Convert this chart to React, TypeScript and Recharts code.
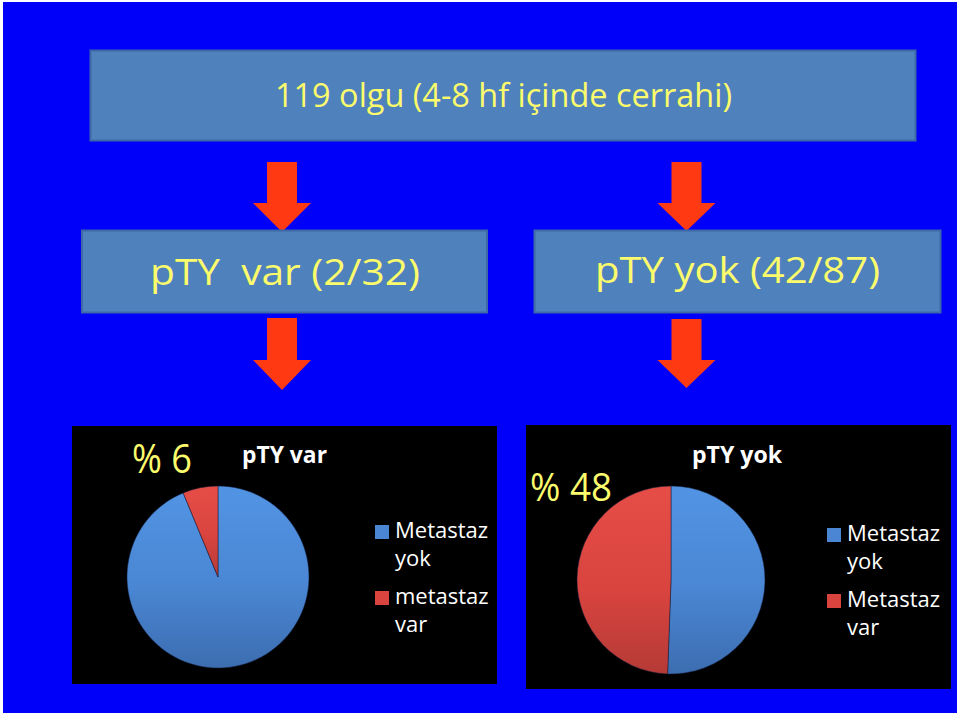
import { PieChart, Pie, Cell, Legend } from 'recharts'

// ---------------------------------------------------------------------------
// Data
// ---------------------------------------------------------------------------

const legendVar = ['Metastaz yok', 'metastaz var']
const legendYok = ['Metastaz yok', 'Metastaz var']
const ptyVarValues = [30, 2]
const ptyYokValues = [44, 43]

const sliceFills = ['url(#gradBlue)', 'url(#gradRed)']
const legendColors = ['#4a86d3', '#d9443f']

const YELLOW = '#fbfb6c'
const BOX_FILL = '#4f81bd'
const BOX_STROKE = '#3d69a6'
const ARROW = '#ff3a12'
const comic = "'Comic Sans MS', 'Open Sans', sans-serif"

// ---------------------------------------------------------------------------

function SlideLegend({ labels }: { labels: string[] }) {
  return (
    <div style={{ fontFamily: "'Open Sans', sans-serif", fontSize: 22, lineHeight: '28px', color: '#fff' }}>
      {labels.map((l, i) => (
        <div key={i} style={{ position: 'relative', paddingLeft: 20, marginBottom: 10, width: 100 }}>
          <span
            style={{
              position: 'absolute',
              left: 0,
              top: 10,
              width: 14,
              height: 14,
              background: legendColors[i],
            }}
          />
          {l}
        </div>
      ))}
    </div>
  )
}

function Arrow({ cx, top, headY, tip }: { cx: number; top: number; headY: number; tip: number }) {
  return (
    <path
      d={`M${cx - 15},${top} H${cx + 15} V${headY} H${cx + 29} L${cx},${tip} L${cx - 29},${headY} H${cx - 15} Z`}
      fill={ARROW}
    />
  )
}

interface PanelProps {
  left: number
  top: number
  width: number
  height: number
  values: number[]
  labels: string[]
  cx: number
  cy: number
  r: number
  legendLeft: number
  legendTop: number
}

function PiePanel({ left, top, width, height, values, labels, cx, cy, r, legendLeft, legendTop }: PanelProps) {
  const data = values.map((v, i) => ({ name: labels[i], value: v }))
  return (
    <div style={{ position: 'absolute', left, top, width, height, background: '#000' }}>
      <PieChart width={width} height={height} margin={{ top: 0, right: 0, bottom: 0, left: 0 }}>
        <Pie
          data={data}
          dataKey="value"
          nameKey="name"
          cx={cx}
          cy={cy}
          outerRadius={r}
          startAngle={90}
          endAngle={-270}
          stroke="rgba(20,30,60,0.5)"
          strokeWidth={1}
          isAnimationActive={false}
        >
          {data.map((_, i) => (
            <Cell key={i} fill={sliceFills[i]} />
          ))}
        </Pie>
        <Legend
          content={() => <SlideLegend labels={labels} />}
          wrapperStyle={{ position: 'absolute', left: legendLeft, top: legendTop, width: 'auto' }}
        />
      </PieChart>
    </div>
  )
}

export default function App() {
  return (
    <div style={{ position: 'absolute', left: 0, top: 0, width: 960, height: 716, background: '#fff' }}>
      <svg width={960} height={716} style={{ position: 'absolute', left: 0, top: 0 }}>
        <defs>
          <linearGradient id="gradBlue" x1="0" y1="0" x2="0" y2="1">
            <stop offset="0%" stopColor="#5294e4" />
            <stop offset="55%" stopColor="#4a86d3" />
            <stop offset="100%" stopColor="#3c6db0" />
          </linearGradient>
          <linearGradient id="gradRed" x1="0" y1="0" x2="0" y2="1">
            <stop offset="0%" stopColor="#e64d47" />
            <stop offset="55%" stopColor="#d9443f" />
            <stop offset="100%" stopColor="#b53a36" />
          </linearGradient>
        </defs>
        <rect x={3} y={2} width={954} height={711} fill="#0000fa" />

        {/* title */}
        <rect x={90.5} y={50.5} width={825} height={90} fill={BOX_FILL} stroke={BOX_STROKE} strokeWidth={2} />
        <text x={275} y={107} fill={YELLOW} fontFamily={comic} fontSize={33} textLength={457} lengthAdjust="spacingAndGlyphs">
          119 olgu (4-8 hf içinde cerrahi)
        </text>

        {/* arrows */}
        <Arrow cx={282} top={162} headY={203} tip={232} />
        <Arrow cx={686.5} top={162} headY={203} tip={231} />
        <Arrow cx={282} top={318} headY={360} tip={390} />
        <Arrow cx={686.5} top={319} headY={360} tip={388} />

        {/* second row */}
        <rect x={82} y={230.5} width={405} height={82} fill={BOX_FILL} stroke={BOX_STROKE} strokeWidth={2} />
        <rect x={534.5} y={230.5} width={406} height={82} fill={BOX_FILL} stroke={BOX_STROKE} strokeWidth={2} />
        <text
          x={150}
          y={285}
          fill={YELLOW}
          fontFamily={comic}
          fontSize={37}
          textLength={270}
          lengthAdjust="spacingAndGlyphs"
          style={{ whiteSpace: 'pre' }}
        >
          {'pTY  var (2/32)'}
        </text>
        <text x={595} y={283} fill={YELLOW} fontFamily={comic} fontSize={37} textLength={285} lengthAdjust="spacingAndGlyphs">
          pTY yok (42/87)
        </text>
      </svg>

      <PiePanel
        left={72}
        top={426}
        width={425}
        height={258}
        values={ptyVarValues}
        labels={legendVar}
        cx={146}
        cy={151}
        r={91}
        legendLeft={303}
        legendTop={89}
      />
      <PiePanel
        left={526}
        top={425}
        width={425}
        height={264}
        values={ptyYokValues}
        labels={legendYok}
        cx={145}
        cy={155}
        r={94}
        legendLeft={301}
        legendTop={93}
      />

      <svg width={960} height={716} style={{ position: 'absolute', left: 0, top: 0, pointerEvents: 'none' }}>
        <text x={242} y={463} fill="#fff" fontFamily="'Open Sans', sans-serif" fontWeight={700} fontSize={24} textLength={85} lengthAdjust="spacingAndGlyphs">
          pTY var
        </text>
        <text x={692} y={463} fill="#fff" fontFamily="'Open Sans', sans-serif" fontWeight={700} fontSize={24} textLength={90} lengthAdjust="spacingAndGlyphs">
          pTY yok
        </text>
        <text x={132} y={473} fill={YELLOW} fontFamily={comic} fontSize={40} textLength={60} lengthAdjust="spacingAndGlyphs" style={{ whiteSpace: 'pre' }}>
          {'% 6'}
        </text>
        <text x={530} y={501} fill={YELLOW} fontFamily={comic} fontSize={38} textLength={82} lengthAdjust="spacingAndGlyphs" style={{ whiteSpace: 'pre' }}>
          {'% 48'}
        </text>
      </svg>
    </div>
  )
}
